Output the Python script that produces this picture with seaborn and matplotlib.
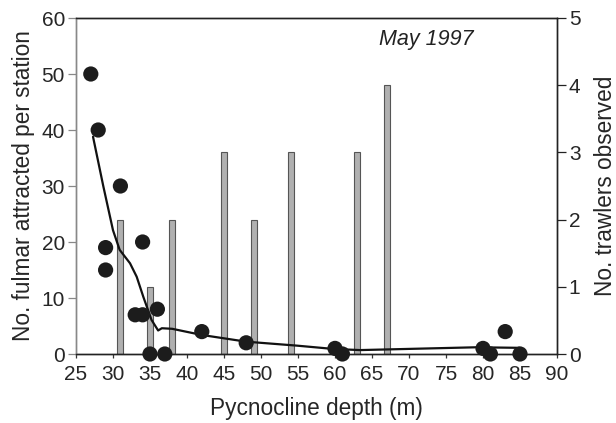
import matplotlib
matplotlib.use("Agg")
import matplotlib.pyplot as plt
import seaborn as sns
import pandas as pd

# --- data ---
fulmar_depth = [27, 28, 31, 29, 29, 33, 34, 34, 36, 35, 37, 42, 48, 60, 61, 80, 81, 83, 85]
fulmar_count = [50, 40, 30, 19, 15, 7, 7, 20, 8, 0, 0, 4, 2, 1, 0, 1, 0, 4, 0]

trawler_depth = [31, 35, 38, 45, 49, 54, 63, 67]
trawler_count = [2, 1, 2, 3, 2, 3, 3, 4]

trend_depth = [27.3, 28.7, 30.0, 30.9, 32.3, 33.2, 34.1, 35.2, 36.1, 36.6, 38.0,
               42.0, 48.0, 54.8, 59.8, 63.4, 79.1, 85.0]
trend_count = [38.8, 29.9, 22.1, 18.6, 16.2, 13.8, 10.2, 6.1, 4.2, 4.6, 4.5,
               3.4, 2.2, 1.5, 0.9, 0.7, 1.2, 1.1]

x_ticks = [25, 30, 35, 40, 45, 50, 55, 60, 65, 70, 75, 80, 85, 90]
y_ticks = [0, 10, 20, 30, 40, 50, 60]
y2_ticks = [0, 1, 2, 3, 4, 5]

sns.set_style("white")
plt.rcParams["font.family"] = ["Liberation Sans", "DejaVu Sans"]

fig = plt.figure(figsize=(6.16, 4.23), dpi=100)
ax = fig.add_axes([76 / 616, 1 - 354 / 423, (557 - 76) / 616, (354 - 18) / 423])
ax2 = ax.twinx()

# bars on the right axis, drawn behind
ax2.bar(trawler_depth, trawler_count, width=0.8, color="#b0b0b0",
        edgecolor="#555555", linewidth=0.8, zorder=1)
ax2.set_ylim(0, 5)
ax2.set_yticks(y2_ticks)

ax.set_zorder(ax2.get_zorder() + 1)
ax.patch.set_visible(False)

df_pts = pd.DataFrame({"depth": fulmar_depth, "count": fulmar_count})
df_trend = pd.DataFrame({"depth": trend_depth, "count": trend_count})

sns.lineplot(data=df_trend, x="depth", y="count", ax=ax, color="#111111",
             linewidth=1.6, sort=False, zorder=3)
sns.scatterplot(data=df_pts, x="depth", y="count", ax=ax, color="#1c1c1c",
                s=120, edgecolor="none", zorder=4, clip_on=False)

ax.set_xlim(25, 90)
ax.set_ylim(0, 60)
ax.set_xticks(x_ticks)
ax.set_yticks(y_ticks)

fs = 15
lfs = 16.3
ax.set_xlabel("Pycnocline depth (m)", fontsize=lfs, labelpad=9)
ax.set_ylabel("No. fulmar attracted per station", fontsize=lfs, labelpad=5)
ax2.set_ylabel("No. trawlers observed", fontsize=lfs, labelpad=10)

ax.tick_params(axis="y", direction="out", length=6, width=0.9, color="#888888",
               labelsize=fs, pad=2, left=True)
ax.tick_params(axis="x", direction="out", length=3, width=0.9, color="#333333",
               labelsize=fs, pad=5, bottom=True)
ax2.tick_params(axis="y", direction="out", length=6.5, width=0.9, color="#222222",
                labelsize=fs, pad=2, right=True)

for a in (ax, ax2):
    for side in ("top", "bottom", "right"):
        a.spines[side].set_color("#222222")
        a.spines[side].set_linewidth(1.0)
    a.spines["left"].set_color("#888888")
    a.spines["left"].set_linewidth(1.0)
    for s in a.spines.values():
        s.set_visible(True)

ax.text(0.728, 0.935, "May 1997", transform=ax.transAxes, fontsize=15.5,
        style="italic", ha="center", va="center", color="#222222")

fig.savefig("out.png", dpi=100)
